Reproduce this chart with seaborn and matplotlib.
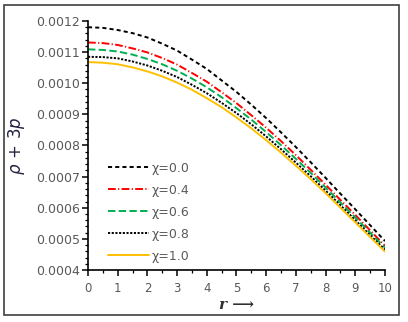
import matplotlib
matplotlib.use("Agg")
import matplotlib.pyplot as plt
import seaborn as sns
from matplotlib.patches import Rectangle
from matplotlib.ticker import MultipleLocator, FormatStrFormatter

r = [0, 0.5, 1, 1.5, 2, 2.5, 3, 3.5, 4, 4.5, 5, 5.5, 6, 6.5, 7, 7.5, 8, 8.5, 9, 9.5, 10]
chi_00 = [0.001180, 0.001178, 0.001171, 0.001161, 0.001147, 0.001127, 0.001105, 0.001076, 0.001046, 0.001009,
          0.000972, 0.000931, 0.000888, 0.000842, 0.000795, 0.000746, 0.000696, 0.000645, 0.000595, 0.000544, 0.000493]
chi_04 = [0.001131, 0.001129, 0.001123, 0.001112, 0.001099, 0.001081, 0.001060, 0.001033, 0.001005, 0.000971,
          0.000936, 0.000897, 0.000857, 0.000814, 0.000769, 0.000722, 0.000674, 0.000625, 0.000577, 0.000527, 0.000478]
chi_06 = [0.001109, 0.001107, 0.001102, 0.001092, 0.001078, 0.001061, 0.001040, 0.001015, 0.000987, 0.000955,
          0.000920, 0.000883, 0.000843, 0.000801, 0.000757, 0.000712, 0.000665, 0.000617, 0.000569, 0.000520, 0.000472]
chi_08 = [0.001085, 0.001084, 0.001080, 0.001070, 0.001057, 0.001040, 0.001020, 0.000995, 0.000968, 0.000937,
          0.000904, 0.000868, 0.000829, 0.000788, 0.000745, 0.000701, 0.000655, 0.000608, 0.000560, 0.000512, 0.000465]
chi_10 = [0.001068, 0.001066, 0.001061, 0.001051, 0.001038, 0.001022, 0.001002, 0.000979, 0.000952, 0.000923,
          0.000890, 0.000855, 0.000817, 0.000777, 0.000735, 0.000692, 0.000647, 0.000600, 0.000553, 0.000506, 0.000459]

labels = ["χ=0.0", "χ=0.4", "χ=0.6", "χ=0.8", "χ=1.0"]
series = [chi_00, chi_04, chi_06, chi_08, chi_10]
colors = ["black", "#FF0000", "#00B050", "black", "#FFC000"]
dashes = [(2.1, 1.6), (4.0, 1.2, 0.6, 1.2), (3.8, 1.7), (1.1, 0.8), None]

sns.set_style("ticks")
plt.rcParams["font.family"] = ["DejaVu Sans"]

fig = plt.figure(figsize=(4.08, 3.22), dpi=100)
ax = fig.add_axes([0.2157, 0.1615, 0.7279, 0.7733])

for vals, lab, col, dsh in zip(series, labels, colors, dashes):
    kw = {} if dsh is None else {"dashes": dsh}
    sns.lineplot(x=r, y=vals, ax=ax, color=col, label=lab, linewidth=1.4, **kw)

ax.set_xlim(0, 10)
ax.set_ylim(0.0004, 0.0012)
ax.xaxis.set_major_locator(MultipleLocator(1))
ax.xaxis.set_minor_locator(MultipleLocator(0.5))
ax.yaxis.set_major_locator(MultipleLocator(0.0001))
ax.yaxis.set_minor_locator(MultipleLocator(0.00002))
ax.yaxis.set_major_formatter(FormatStrFormatter("%.4f"))

sns.despine(ax=ax)
for side in ["left", "bottom"]:
    ax.spines[side].set_color("black")
    ax.spines[side].set_linewidth(1.2)
ax.tick_params(which="major", direction="out", length=4, width=1.1, color="black", pad=2)
ax.tick_params(which="minor", direction="out", length=2.5, width=0.9, color="black")
ax.tick_params(axis="y", labelsize=9, labelcolor="#595959")
ax.tick_params(axis="x", labelsize=8.5, labelcolor="#595959", pad=5)

ax.set_xlabel("r ⟶", fontsize=11, family="DejaVu Serif", style="italic",
              weight="bold", color="#303030", labelpad=2)
ax.set_ylabel(r"$\rho\, +\, 3p$", fontsize=12, color="#202040", labelpad=6)

ax.legend(loc="lower left", bbox_to_anchor=(0.03, -0.016), frameon=False,
          fontsize=9, labelcolor="#595959", handlelength=3.3, handletextpad=0.15,
          labelspacing=0.72)

fig.patches.append(Rectangle((0.0098, 0.0217), 0.968, 0.963, transform=fig.transFigure,
                             fill=False, edgecolor="#404040", linewidth=1.2))

fig.savefig("out.png", dpi=100)
